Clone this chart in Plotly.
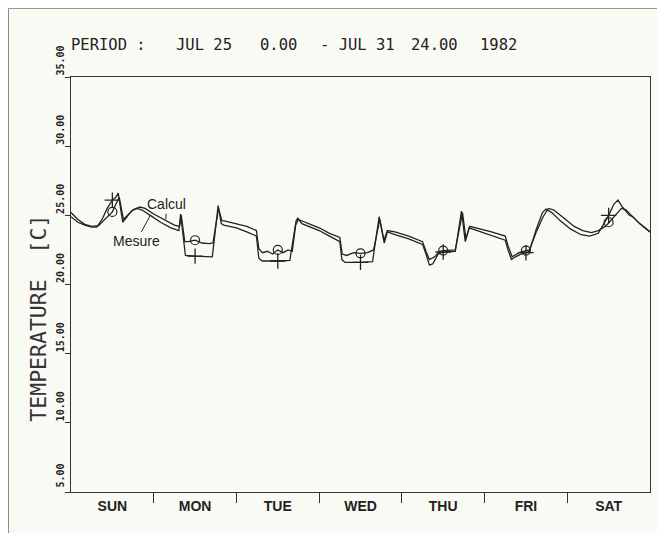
import plotly.graph_objects as go

# ---- data (hours since Jul 25 0:00) ----
calc_hours = [0, 2, 4, 6, 8, 9.5, 11, 12, 13, 14, 15.2, 16.5, 18, 20, 21.5, 24, 27, 30, 31.5, 32, 33, 34, 36, 38, 40, 41.2,
              42.8, 43.8, 44.5, 48, 51, 53.8, 54.5, 55.5, 57, 58.5, 60, 61.5, 63, 64.2, 65.2, 66, 68, 72, 75, 78, 78.7,
              80, 82, 84, 86, 87.8, 89.6, 90.8, 91.8, 94, 98, 102, 103, 104, 105.5, 107, 108, 111.5, 113.6, 114.6,
              115.7, 119, 122, 126, 126.8, 128, 130, 132, 133, 135, 137, 138.5, 140, 143, 146, 148.5, 151, 153, 155,
              156, 158, 159.7, 161, 163, 165, 168]
calc_temp = [25.2, 24.7, 24.35, 24.2, 24.25, 24.6, 25.0, 25.25, 25.8, 26.3, 24.7, 25.0, 25.4, 25.6, 25.5, 25.1, 24.7,
             24.3, 24.2, 25.0, 23.1, 23.1, 23.2, 23.0, 22.95, 23.0, 25.5, 24.6, 24.6, 24.4, 24.2, 23.9, 22.6, 22.3,
             22.4, 22.2, 22.5, 22.3, 22.5, 22.4, 24.3, 24.7, 24.5, 24.1, 23.7, 23.4, 22.2, 22.1, 22.3, 22.25, 22.3,
             22.5, 24.7, 23.2, 23.9, 23.8, 23.5, 23.1, 22.4, 21.8, 22.0, 22.4, 22.45, 22.5, 25.2, 23.3, 24.2, 24.0,
             23.8, 23.5, 22.8, 22.0, 22.3, 22.45, 22.5, 23.8, 24.9, 25.5, 25.4, 24.8, 24.2, 23.9, 23.75, 23.9, 24.2,
             24.45, 25.0, 25.5, 25.4, 24.9, 24.4, 23.8]

meas_hours = [0, 2, 4, 6, 7.5, 9, 10.5, 12, 13, 13.7, 15, 16, 17.5, 19, 20.5, 23, 26, 29, 31.3, 31.8, 32.6, 33.2, 36, 39,
              41, 42.7, 43.6, 44.3, 48, 51, 53.8, 54.5, 55.5, 60, 63.5, 65.3, 65.8, 67, 72, 75, 78, 78.6, 79.5, 84,
              87.5, 89.4, 90.9, 91.8, 94, 98, 102, 103, 104, 105, 106.5, 108, 111.5, 113.3, 114.4, 115.5, 119, 122,
              126, 126.8, 127.8, 129, 130.5, 132, 133, 135, 136.8, 137.8, 139.5, 142, 145, 148, 150.5, 153, 155, 156,
              157.5, 158.7, 160, 162, 163, 165, 168]
meas_temp = [24.9, 24.5, 24.3, 24.15, 24.15, 24.7, 25.5, 26.1, 26.3, 26.6, 24.5, 24.8, 25.3, 25.5, 25.4, 25.0, 24.5,
             24.1, 23.9, 25.1, 23.4, 22.1, 22.05, 22.0, 22.0, 25.7, 24.4, 24.3, 24.1, 23.8, 23.5, 21.9, 21.7, 21.7,
             21.75, 24.6, 24.8, 24.4, 23.9, 23.5, 23.1, 21.8, 21.6, 21.6, 21.65, 24.9, 23.0, 23.8, 23.6, 23.3, 22.9,
             22.2, 21.4, 21.5, 22.2, 22.35, 22.4, 25.3, 23.1, 24.1, 23.8, 23.5, 23.2, 22.5, 21.8, 22.0, 22.2, 22.3,
             22.4, 24.0, 25.2, 25.45, 25.2, 24.6, 24.0, 23.6, 23.5, 23.7, 24.5, 25.0, 25.8, 26.1, 25.6, 25.0, 24.9,
             24.4, 23.8]

marker_hours = [12, 36, 60, 84, 108, 132, 156]
calc_marker = [25.25, 23.2, 22.5, 22.25, 22.45, 22.45, 24.5]
meas_marker = [26.1, 22.05, 21.7, 21.6, 22.35, 22.3, 25.0]

day_labels = ["SUN", "MON", "TUE", "WED", "THU", "FRI", "SAT"]
day_centers = [12, 36, 60, 84, 108, 132, 156]
day_bounds = [24, 48, 72, 96, 120, 144]
y_ticks = [5, 10, 15, 20, 25, 30, 35]
y_tick_text = ["5.00", "10.00", "15.00", "20.00", "25.00", "30.00", "35.00"]

INK = "#222222"
BG = "#fafaf5"

fig = go.Figure()
fig.add_trace(go.Scatter(x=calc_hours, y=calc_temp, mode="lines", name="Calcul",
                         line=dict(color=INK, width=1.3)))
fig.add_trace(go.Scatter(x=meas_hours, y=meas_temp, mode="lines", name="Mesure",
                         line=dict(color=INK, width=1.3)))
fig.add_trace(go.Scatter(x=marker_hours, y=calc_marker, mode="markers", name="Calcul pts",
                         marker=dict(symbol="circle-open", size=9, color=INK, line=dict(width=1.2))))
fig.add_trace(go.Scatter(x=marker_hours, y=meas_marker, mode="markers", name="Mesure pts",
                         marker=dict(symbol="cross-thin-open", size=11, color=INK, line=dict(width=1.3, color=INK))))

# plot area in page pixels
L, R, T, B = 71.3, 650, 77, 492


def px(x):
    return (x - L) / (R - L)


def py(y):
    return (B - y) / (B - T)


title_parts = [("PERIOD :", 69), ("JUL 25", 174), ("0.00", 258), ("- JUL 31", 318), ("24.00", 409), ("1982", 478)]
annotations = []
for txt, xp in title_parts:
    annotations.append(dict(text=txt, xref="paper", yref="paper", x=px(xp), y=py(45),
                            xanchor="left", yanchor="middle", showarrow=False,
                            font=dict(family="DejaVu Sans Mono", size=15.5, color=INK)))
annotations.append(dict(text="TEMPERATURE  [C]", xref="paper", yref="paper", x=px(38),
                        y=py(318), textangle=-90, showarrow=False, xanchor="center", yanchor="middle",
                        font=dict(family="DejaVu Sans Mono", size=21.5, color="#333333")))
annotations.append(dict(text="Calcul", x=27.5, y=24.72, xref="x", yref="y", showarrow=True, arrowhead=0,
                        arrowwidth=1, arrowcolor=INK, ax=1, ay=-15,
                        font=dict(family="Liberation Sans", size=14, color=INK)))
annotations.append(dict(text="Mesure", x=23, y=25.0, xref="x", yref="y", showarrow=True, arrowhead=0,
                        arrowwidth=1, arrowcolor=INK, ax=-14, ay=26,
                        font=dict(family="Liberation Sans", size=14, color=INK)))

fig.update_layout(
    width=665, height=533,
    margin=dict(l=63, r=23, t=69, b=49),
    paper_bgcolor=BG, plot_bgcolor=BG,
    showlegend=False,
    annotations=annotations,
    shapes=[
        dict(type="line", xref="paper", yref="paper", x0=px(8.5), x1=px(8.5),
             y0=py(560), y1=py(8.5), line=dict(color="#555", width=1)),
        dict(type="line", xref="paper", yref="paper", x0=px(8.5), x1=px(680),
             y0=py(8.5), y1=py(8.5), line=dict(color="#999", width=1)),
    ],
)
fig.update_xaxes(range=[0, 168], tickvals=day_centers, ticktext=["<b>%s</b>" % d for d in day_labels],
                 ticks="", showgrid=False, zeroline=False, showline=True, linecolor="#333", linewidth=1.2,
                 mirror=True, ticklabelstandoff=1,
                 tickfont=dict(family="Liberation Sans", size=14, color=INK),
                 minor=dict(tickvals=day_bounds, ticks="outside", ticklen=10, tickcolor="#333", tickwidth=1.2))
fig.update_yaxes(range=[5, 35], tickvals=y_ticks, ticktext=["<b>%s</b>" % t for t in y_tick_text],
                 ticks="outside", ticklen=5, tickcolor="#333", tickwidth=1.2, tickangle=-90, ticklabelshift=-15,
                 ticklabelstandoff=-3,
                 showgrid=False, zeroline=False, showline=True, linecolor="#333", linewidth=1.2, mirror=True,
                 tickfont=dict(family="DejaVu Sans Mono", size=10, color=INK))

fig.write_html("out.html")
